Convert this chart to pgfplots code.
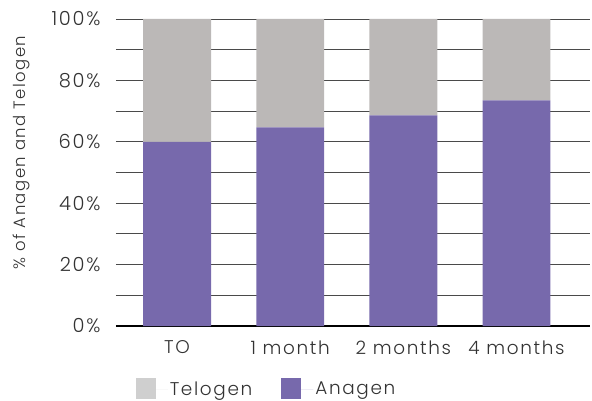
\documentclass[border=0pt]{standalone}
\usepackage{pgfplots}
\pgfplotsset{compat=1.18}
\usepackage{fontspec}
\setmainfont{Poppins}[UprightFont={* Light}, LetterSpace=9]
\definecolor{anagen}{HTML}{7769AC}
\definecolor{telogen}{HTML}{BBB8B7}
\definecolor{telogenleg}{HTML}{CFCFCF}
\definecolor{txt}{HTML}{333333}
\definecolor{gridc}{HTML}{4A4A4A}
\begin{document}
\begin{tikzpicture}[x=1bp,y=1bp]
\useasboundingbox (-116bp,-75bp) rectangle (476bp,326bp);
\begin{axis}[
  at={(0,0)}, anchor=south west,
  scale only axis, width=474bp, height=307bp,
  ybar stacked, bar width=0.6,
  xmin=-0.54, xmax=3.65, ymin=0, ymax=100,
  xtick={0,1,2,3}, xticklabels={TO,1 month,2 months,4 months},
  ytick={0,20,40,60,80,100}, minor ytick={10,30,50,70,90},
  yticklabel={\pgfmathprintnumber{\tick}\%},
  /pgf/number format/assume math mode=true,
  ymajorgrids, yminorgrids,
  major grid style={gridc, line width=0.9bp},
  minor grid style={gridc, line width=0.9bp},
  axis x line=bottom, axis y line=left,
  x axis line style={black, line width=2bp, -},
  y axis line style={draw=none, -},
  major tick length=0pt, minor tick length=0pt,
  tick style={draw=none},
  ticklabel style={font=\fontsize{18.5}{22}\selectfont, text=txt},
  xticklabel style={yshift=-11bp},
  yticklabel style={xshift=-12bp, font=\fontsize{19.5}{22}\selectfont},
  ylabel={\% of Anagen and Telogen},
  ylabel style={font=\fontsize{16.5}{20}\selectfont, text=txt, at={(axis description cs:-0.175,0.565)}, anchor=south},
  legend columns=2,
  legend style={draw=none, fill=none, at={(0.035,-0.163)}, anchor=north west,
    font=\fontsize{18.5}{22}\selectfont, text=txt,
    /tikz/every even column/.append style={column sep=27bp}},
  legend image code/.code={\fill[#1] (0bp,-10bp) rectangle (20bp,11bp); \path (0bp,0bp) -- (32bp,0bp);},
]
\addplot[fill=anagen, draw=none, forget plot] coordinates {(0,60) (1,64.7) (2,68.6) (3,73.5)};
\addplot[fill=telogen, draw=none, forget plot] coordinates {(0,40) (1,35.3) (2,31.4) (3,26.5)};
\addlegendimage{fill=telogenleg, draw=none}
\addlegendentry{Telogen}
\addlegendimage{fill=anagen, draw=none}
\addlegendentry{Anagen}
\end{axis}
\end{tikzpicture}
\end{document}
